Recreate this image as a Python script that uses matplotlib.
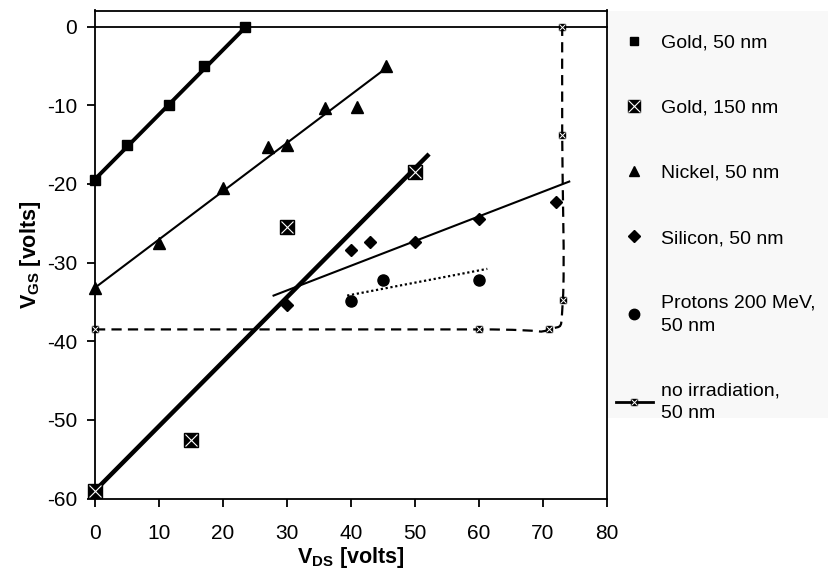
import numpy as np
import matplotlib
matplotlib.use("Agg")
import matplotlib.pyplot as plt
from matplotlib.lines import Line2D
from matplotlib.patches import Rectangle, PathPatch
from matplotlib.path import Path

plt.rcParams['font.family'] = ['Liberation Sans', 'DejaVu Sans']
plt.rcParams['axes.unicode_minus'] = False
plt.rcParams['mathtext.fontset'] = 'custom'
plt.rcParams['mathtext.rm'] = 'Liberation Sans'
plt.rcParams['mathtext.bf'] = 'Liberation Sans:bold'

# ---------------- data ----------------
gold50_x = [0, 5, 11.5, 17, 23.5]
gold50_y = [-19.5, -15, -10, -5, 0]
gold50_fit_x = [0, 23.6]
gold50_fit_y = [-19.4, 0]

gold150_x = [0, 15, 30, 50]
gold150_y = [-59, -52.5, -25.5, -18.5]
gold150_fit_x = [0, 52.2]
gold150_fit_y = [-59, -16.2]

nickel_x = [0, 10, 20, 27, 30, 36, 41, 45.5]
nickel_y = [-33.2, -27.5, -20.5, -15.3, -15, -10.4, -10.2, -5]
nickel_fit_x = [0, 44.8]
nickel_fit_y = [-33.2, -5.7]

silicon_x = [30, 40, 43, 50, 60, 72]
silicon_y = [-35.4, -28.4, -27.4, -27.4, -24.4, -22.3]
silicon_fit_x = [27.9, 74.1]
silicon_fit_y = [-34.2, -19.7]

protons_x = [40, 45, 60]
protons_y = [-34.9, -32.2, -32.2]
protons_fit_x = [39.4, 61.3]
protons_fit_y = [-34.2, -30.8]

noirr_x = [0, 60, 71, 73.1, 73, 73]
noirr_y = [-38.5, -38.5, -38.5, -34.8, -13.8, 0]

xticks = [0, 10, 20, 30, 40, 50, 60, 70, 80]
yticks = [0, -10, -20, -30, -40, -50, -60]

labels = ["Gold, 50 nm", "Gold, 150 nm", "Nickel, 50 nm", "Silicon, 50 nm",
          "Protons 200 MeV,\n50 nm", "no irradiation,\n50 nm"]

# ---------------- figure ----------------
W, H = 829, 573
fig = plt.figure(figsize=(W / 100, H / 100), dpi=100)
fig.patch.set_facecolor('white')

# legend background
fig.patches.append(Rectangle((608 / W, 1 - 418 / H), (W - 608) / W, (418 - 11) / H,
                             transform=fig.transFigure, facecolor='#f8f8f8',
                             edgecolor='none', zorder=0))

ax = fig.add_axes([95 / W, 1 - 498.5 / H, (607 - 95) / W, (498.5 - 10.5) / H])
ax.set_xlim(0, 80)
ax.set_ylim(-60, 2.05)
ax.set_facecolor('white')
for s in ax.spines.values():
    s.set_linewidth(1.3)
    s.set_color('black')

ax.set_xticks(xticks)
ax.set_yticks(yticks)
ax.tick_params(direction='out', length=6, width=1.3, labelsize=15, pad=7, colors='black')
ax.tick_params(axis='x', pad=12.5)

ax.set_xlabel(r'$\mathbf{V_{DS}}$ [volts]', fontsize=15.5, fontweight='bold', labelpad=1)
ax.set_ylabel(r'$\mathbf{V_{GS}}$ [volts]', fontsize=15.5, fontweight='bold', labelpad=3)

# zero line extending past the plot
ax.plot([0, 82.9], [0, 0], color='black', lw=1.3, clip_on=False, zorder=2)

# trend lines
ax.plot(gold50_fit_x, gold50_fit_y, color='black', lw=2.8, solid_capstyle='butt', zorder=3)
ax.plot(gold150_fit_x, gold150_fit_y, color='black', lw=3.2, solid_capstyle='butt', zorder=3)
ax.plot(nickel_fit_x, nickel_fit_y, color='black', lw=1.5, zorder=3)
ax.plot(silicon_fit_x, silicon_fit_y, color='black', lw=1.5, zorder=3)
ax.plot(protons_fit_x, protons_fit_y, color='black', lw=1.6, ls=(0, (1, 1.2)), zorder=3)

# smoothed dashed curve for "no irradiation" (Excel-style bezier through points)
pts = ax.transData.transform(np.column_stack([noirr_x, noirr_y]))
n = len(pts)
verts = [pts[0]]
codes = [Path.MOVETO]
for i in range(n - 1):
    p_prev = pts[i - 1] if i > 0 else pts[i]
    p_next2 = pts[i + 2] if i + 2 < n else pts[i + 1]
    c1 = pts[i] + (pts[i + 1] - p_prev) / 6.0
    c2 = pts[i + 1] - (p_next2 - pts[i]) / 6.0
    verts += [c1, c2, pts[i + 1]]
    codes += [Path.CURVE4] * 3
verts = ax.transData.inverted().transform(np.array(verts))
curve = PathPatch(Path(verts, codes), facecolor='none', edgecolor='black', lw=1.6,
                  linestyle=(0, (4.6, 2.8)), transform=ax.transData, zorder=3)
ax.add_patch(curve)

# markers
mk = dict(ls='none', color='black', clip_on=False, zorder=5)
ax.plot(gold50_x, gold50_y, marker='s', ms=6.5, **mk)
ax.plot(gold150_x, gold150_y, marker='s', ms=9.5, **mk)
ax.plot(gold150_x, gold150_y, ls='none', marker='x', ms=9, mew=0.8, color='white',
        clip_on=False, zorder=6)
ax.plot(nickel_x, nickel_y, marker='^', ms=8, **mk)
ax.plot(silicon_x, silicon_y, marker='D', ms=6.5, **mk)
ax.plot(protons_x, protons_y, marker='o', ms=8, **mk)
ax.plot(noirr_x, noirr_y, marker='s', ms=5, **mk)
ax.plot(noirr_x, noirr_y, ls='none', marker='x', ms=4.5, mew=0.7, color='white',
        clip_on=False, zorder=6)

# legend
h1 = Line2D([], [], ls='none', marker='s', ms=6, color='black')
h2 = (Line2D([], [], ls='none', marker='s', ms=9, color='black'),
      Line2D([], [], ls='none', marker='x', ms=8.5, mew=0.8, color='white'))
h3 = Line2D([], [], ls='none', marker='^', ms=7.5, color='black')
h4 = Line2D([], [], ls='none', marker='D', ms=6, color='black')
h5 = Line2D([], [], ls='none', marker='o', ms=7.5, color='black')
h6 = (Line2D([], [], ls='-', lw=2, marker='s', ms=5, color='black'),
      Line2D([], [], ls='none', marker='x', ms=4.5, mew=0.7, color='white'))
leg = fig.legend([h1, h2, h3, h4, h5, h6], labels, loc='upper left',
                 bbox_to_anchor=(606 / W, 1 - 24 / H), frameon=False,
                 fontsize=14, labelspacing=2.45, handlelength=1.9, handletextpad=0.45,
                 borderpad=0, numpoints=1)
for t in leg.get_texts():
    t.set_linespacing(1.45)

fig.savefig('out.png', dpi=100, facecolor='white')
